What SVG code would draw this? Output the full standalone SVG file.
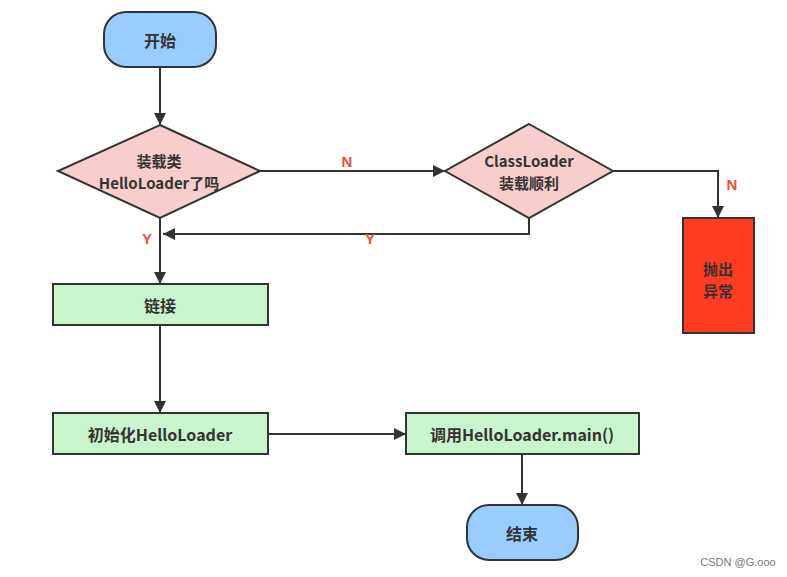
<svg xmlns="http://www.w3.org/2000/svg" width="787" height="577" viewBox="0 0 787 577">
<defs>
<style>
.t{font-family:"Noto Sans CJK SC","Liberation Sans",sans-serif;font-size:16px;font-weight:bold;fill:#333;text-anchor:middle;dominant-baseline:central}
.t2{font-size:15px}
.lbl{font-family:"Liberation Sans",sans-serif;font-size:15px;font-weight:bold;fill:#f04a3a;text-anchor:middle;dominant-baseline:central}
.term{fill:#99ccff;stroke:#333;stroke-width:2}
.dec{fill:#f8cecc;stroke:#333;stroke-width:2}
.proc{fill:#c8f5cb;stroke:#333;stroke-width:2}
.err{fill:#ff3b22;stroke:#333;stroke-width:2}
.c{fill:none;stroke:#333;stroke-width:2}
</style>
<marker id="a" viewBox="0 0 12 12" refX="12" refY="6" markerWidth="12" markerHeight="12" markerUnits="userSpaceOnUse" orient="auto">
<path d="M0,0 L12,6 L0,12 z" fill="#333"/>
</marker>
</defs>
<rect width="787" height="577" fill="#fff"/>
<g id="connectors">
<path class="c" d="M160,67 V125" marker-end="url(#a)"/>
<path class="c" d="M260,171 H445" marker-end="url(#a)"/>
<path class="c" d="M529,218 V234 H163" marker-end="url(#a)"/>
<path class="c" d="M613,171 H718 V218" marker-end="url(#a)"/>
<path class="c" d="M160,218 V284" marker-end="url(#a)"/>
<path class="c" d="M160,325 V413" marker-end="url(#a)"/>
<path class="c" d="M268,434 H406" marker-end="url(#a)"/>
<path class="c" d="M522,454 V505" marker-end="url(#a)"/>
<text class="lbl" x="347" y="161">N</text>
<text class="lbl" x="147" y="238">Y</text>
<text class="lbl" x="370" y="238">Y</text>
<text class="lbl" x="732" y="184">N</text>
</g>
<g id="start">
<rect class="term" x="104" y="12" width="112" height="55" rx="22"/>
<text class="t" x="160" y="40">开始</text>
</g>
<g id="d1">
<polygon class="dec" points="160,125 260,171 160,218 58,171"/>
<text class="t t2" x="159" y="160">装载类</text>
<text class="t t2" x="159" y="182">HelloLoader了吗</text>
</g>
<g id="d2">
<polygon class="dec" points="529,124 613,171 529,218 445,171"/>
<text class="t t2" x="529" y="160">ClassLoader</text>
<text class="t t2" x="529" y="182">装载顺利</text>
</g>
<g id="throw">
<rect class="err" x="683" y="218" width="71" height="115"/>
<text class="t t2" x="718" y="268">抛出</text>
<text class="t t2" x="718" y="290">异常</text>
</g>
<g id="link">
<rect class="proc" x="53" y="284" width="215" height="41"/>
<text class="t" x="160" y="305">链接</text>
</g>
<g id="init">
<rect class="proc" x="53" y="413" width="215" height="41"/>
<text class="t" x="160" y="434">初始化HelloLoader</text>
</g>
<g id="call">
<rect class="proc" x="406" y="413" width="233" height="41"/>
<text class="t" x="522" y="434">调用HelloLoader.main()</text>
</g>
<g id="end">
<rect class="term" x="467" y="505" width="111" height="55" rx="22"/>
<text class="t" x="522" y="533">结束</text>
</g>
<text x="738" y="566" font-family="Liberation Sans,sans-serif" font-size="11" fill="#777" text-anchor="middle">CSDN @G.ooo</text>
</svg>
